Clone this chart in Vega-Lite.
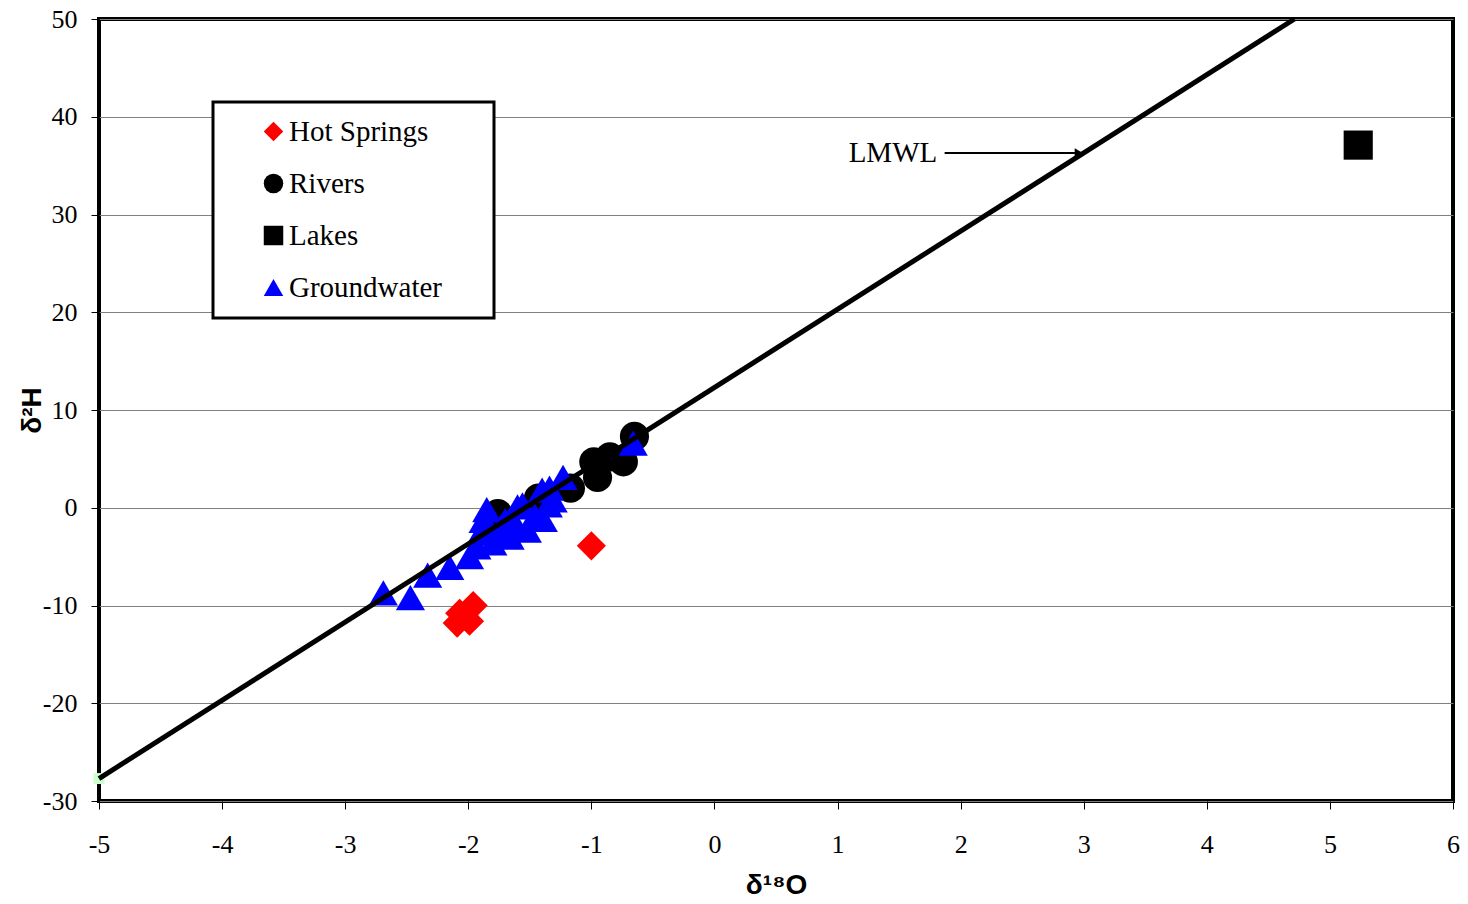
{
  "$schema": "https://vega.github.io/schema/vega-lite/v6.json",
  "width": 1354,
  "height": 782,
  "autosize": {"type": "none"},
  "padding": {"left": 99, "top": 19, "right": 15, "bottom": 103},
  "background": "white",
  "config": {
    "view": {"stroke": "black", "strokeWidth": 4},
    "axis": {
      "domain": false,
      "tickColor": "black",
      "tickSize": 8,
      "labelFont": "Liberation Serif",
      "labelFontSize": 26,
      "labelColor": "black",
      "labelFlush": false,
      "labelOverlap": false,
      "titleFont": "Liberation Sans",
      "titleFontWeight": "bold",
      "titleFontSize": 28,
      "titleColor": "black"
    },
    "legend": {
      "orient": "none",
      "legendX": 114,
      "legendY": 83,
      "padding": 15,
      "strokeColor": "black",
      "strokeWidth": 3,
      "fillColor": "white",
      "labelFont": "Liberation Serif",
      "labelFontSize": 29,
      "labelColor": "black",
      "labelOffset": 1,
      "symbolSize": 380,
      "symbolStrokeWidth": 0,
      "symbolOffset": 31,
      "rowPadding": 22,
      "labelLimit": 500
    }
  },
  "datasets": {
    "points": [
      {"type": "Lakes", "d18O": 5.23, "d2H": 37.1},
      {"type": "Rivers", "d18O": -0.65, "d2H": 7.3},
      {"type": "Rivers", "d18O": -0.98, "d2H": 4.7},
      {"type": "Rivers", "d18O": -0.85, "d2H": 5.2},
      {"type": "Rivers", "d18O": -0.74, "d2H": 4.7},
      {"type": "Rivers", "d18O": -0.95, "d2H": 3.1},
      {"type": "Rivers", "d18O": -1.17, "d2H": 2.0},
      {"type": "Rivers", "d18O": -1.43, "d2H": 1.0},
      {"type": "Rivers", "d18O": -1.76, "d2H": -0.6},
      {"type": "Groundwater", "d18O": -2.69, "d2H": -8.7},
      {"type": "Groundwater", "d18O": -2.47, "d2H": -9.2},
      {"type": "Groundwater", "d18O": -2.33, "d2H": -6.9},
      {"type": "Groundwater", "d18O": -2.15, "d2H": -6.1},
      {"type": "Groundwater", "d18O": -1.99, "d2H": -5.0},
      {"type": "Groundwater", "d18O": -1.93, "d2H": -4.0},
      {"type": "Groundwater", "d18O": -1.85, "d2H": -0.2},
      {"type": "Groundwater", "d18O": -1.88, "d2H": -1.3},
      {"type": "Groundwater", "d18O": -1.8, "d2H": -3.6},
      {"type": "Groundwater", "d18O": -1.74, "d2H": -2.0},
      {"type": "Groundwater", "d18O": -1.66, "d2H": -3.0},
      {"type": "Groundwater", "d18O": -1.6, "d2H": 0.1},
      {"type": "Groundwater", "d18O": -1.56, "d2H": 0.3},
      {"type": "Groundwater", "d18O": -1.52, "d2H": -2.3},
      {"type": "Groundwater", "d18O": -1.39, "d2H": -1.2},
      {"type": "Groundwater", "d18O": -1.4, "d2H": 1.8},
      {"type": "Groundwater", "d18O": -1.34, "d2H": 2.0},
      {"type": "Groundwater", "d18O": -1.31, "d2H": 0.8},
      {"type": "Groundwater", "d18O": -1.23, "d2H": 3.1},
      {"type": "Groundwater", "d18O": -0.66, "d2H": 6.6},
      {"type": "Groundwater", "d18O": -1.9, "d2H": -2.6},
      {"type": "Groundwater", "d18O": -1.82, "d2H": -2.3},
      {"type": "Groundwater", "d18O": -1.7, "d2H": -1.3},
      {"type": "Groundwater", "d18O": -1.62, "d2H": -1.6},
      {"type": "Groundwater", "d18O": -1.46, "d2H": -0.8},
      {"type": "Groundwater", "d18O": -1.35, "d2H": 0.3},
      {"type": "Hot Springs", "d18O": -1.0, "d2H": -3.9},
      {"type": "Hot Springs", "d18O": -1.96, "d2H": -10.0},
      {"type": "Hot Springs", "d18O": -2.07, "d2H": -10.8},
      {"type": "Hot Springs", "d18O": -2.09, "d2H": -11.8},
      {"type": "Hot Springs", "d18O": -1.99, "d2H": -11.6}
    ],
    "lmwl": [
      {"d18O": -5, "d2H": -27.7},
      {"d18O": 4.7125, "d2H": 50}
    ],
    "start": [
      {"d18O": -5, "d2H": -27.7}
    ],
    "arrow": [
      {"d18O": 1.87, "d18O2": 2.96, "d2H": 36.3, "label": "LMWL", "labelX": 1.81}
    ]
  },
  "layer": [
    {
      "data": {"name": "points"},
      "mark": {"type": "point", "filled": true, "size": 850, "opacity": 1, "strokeWidth": 0},
      "encoding": {
        "x": {
          "field": "d18O", "type": "quantitative",
          "scale": {"domain": [-5, 6], "nice": false, "zero": false},
          "axis": {"values": [-5, -4, -3, -2, -1, 0, 1, 2, 3, 4, 5, 6], "grid": false, "title": "δ¹⁸O", "labelFont": "Liberation Serif", "labelFlush": false, "labelExpr": "datum.value < 0 ? '-' + abs(datum.value) : '' + datum.value", "labelPadding": 22, "titlePadding": 14}
        },
        "y": {
          "field": "d2H", "type": "quantitative",
          "scale": {"domain": [-30, 50], "nice": false, "zero": false},
          "axis": {"values": [-30, -20, -10, 0, 10, 20, 30, 40, 50], "grid": true, "gridColor": "#808080", "gridWidth": 1, "title": "δ²H", "labelFont": "Liberation Serif", "labelFlush": false, "labelExpr": "datum.value < 0 ? '-' + abs(datum.value) : '' + datum.value", "labelPadding": 14, "titlePadding": -4}
        },
        "color": {
          "field": "type", "type": "nominal",
          "scale": {"domain": ["Hot Springs", "Rivers", "Lakes", "Groundwater"], "range": ["#ff0000", "#000000", "#000000", "#0000ff"]},
          "legend": {"title": null, "labelExpr": "datum.label + '\u00a0\u00a0\u00a0\u00a0\u00a0\u200b'"}
        },
        "shape": {
          "field": "type", "type": "nominal",
          "scale": {"domain": ["Hot Springs", "Rivers", "Lakes", "Groundwater"], "range": ["diamond", "circle", "square", "triangle-up"]},
          "legend": {"title": null, "labelExpr": "datum.label + '\u00a0\u00a0\u00a0\u00a0\u00a0\u200b'"}
        }
      }
    },
    {
      "data": {"name": "start"},
      "mark": {"type": "point", "shape": "square", "filled": true, "size": 120, "color": "#ccffcc", "opacity": 1},
      "encoding": {
        "x": {"field": "d18O", "type": "quantitative"},
        "y": {"field": "d2H", "type": "quantitative"}
      }
    },
    {
      "data": {"name": "lmwl"},
      "mark": {"type": "line", "color": "black", "strokeWidth": 5},
      "encoding": {
        "x": {"field": "d18O", "type": "quantitative"},
        "y": {"field": "d2H", "type": "quantitative"}
      }
    },
    {
      "data": {"name": "arrow"},
      "mark": {"type": "rule", "color": "black", "strokeWidth": 2},
      "encoding": {
        "x": {"field": "d18O", "type": "quantitative"},
        "x2": {"field": "d18O2"},
        "y": {"field": "d2H", "type": "quantitative"}
      }
    },
    {
      "data": {"name": "arrow"},
      "mark": {"type": "point", "shape": "triangle-right", "filled": true, "size": 90, "color": "black", "opacity": 1},
      "encoding": {
        "x": {"field": "d18O2", "type": "quantitative"},
        "y": {"field": "d2H", "type": "quantitative"}
      }
    },
    {
      "data": {"name": "arrow"},
      "mark": {"type": "text", "align": "right", "baseline": "middle", "font": "Liberation Serif", "fontSize": 29, "color": "black"},
      "encoding": {
        "x": {"field": "labelX", "type": "quantitative"},
        "y": {"field": "d2H", "type": "quantitative"},
        "text": {"field": "label"}
      }
    }
  ]
}
